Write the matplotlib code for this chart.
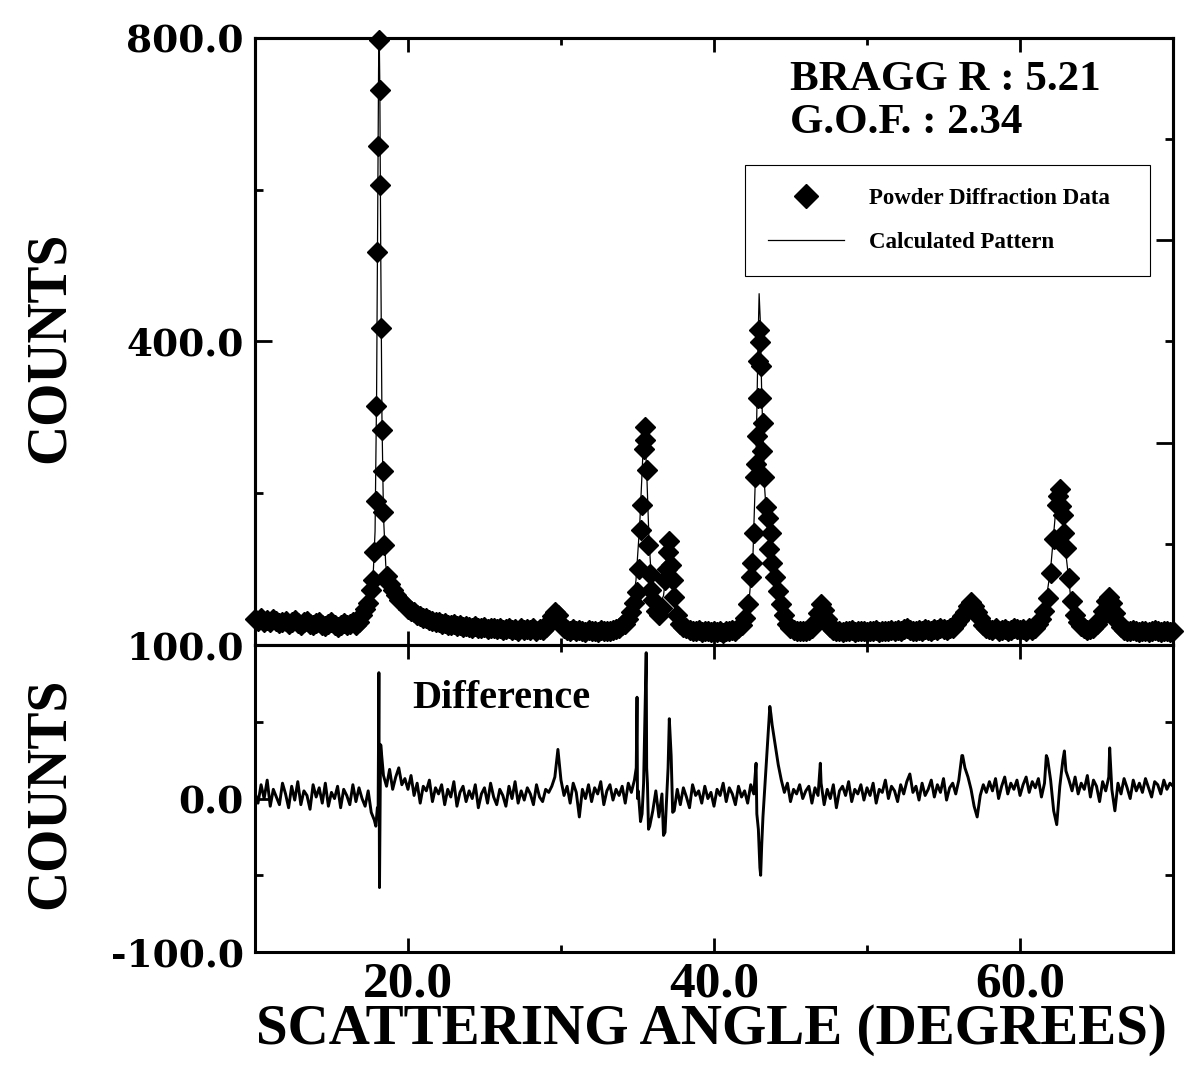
import numpy as np
import matplotlib.pyplot as plt

plt.rcParams['font.family'] = 'Liberation Serif'
plt.rcParams['font.weight'] = 'bold'

# observed counts, scan from 10 to 70 deg in 0.2 deg steps
obs_start = 10.0
obs_step = 0.2
obs_counts = [34, 32, 36, 31, 33, 30, 34, 32, 29, 31,
              32, 28, 30, 33, 29, 27, 30, 32, 28, 26,
              29, 31, 27, 25, 28, 30, 26, 24, 27, 29,
              26, 28, 30, 27, 31, 40, 48, 56, 72, 123,
              518, 606, 175, 91, 80, 72, 66, 60, 57, 53,
              48, 45, 43, 40, 38, 36, 35, 33, 32, 31,
              30, 28, 29, 27, 26, 28, 25, 26, 24, 25,
              24, 23, 25, 22, 23, 24, 21, 22, 23, 21,
              22, 20, 21, 23, 20, 21, 19, 22, 20, 21,
              20, 22, 19, 21, 20, 24, 30, 38, 44, 40,
              28, 22, 20, 19, 21, 18, 20, 19, 17, 20,
              18, 19, 17, 20, 18, 19, 18, 20, 21, 23,
              26, 28, 34, 43, 55, 70, 152, 258, 231, 93,
              60, 45, 40, 49, 86, 122, 106, 63, 40, 28,
              24, 22, 20, 19, 18, 20, 17, 19, 18, 17,
              19, 17, 18, 16, 19, 18, 20, 19, 22, 26,
              36, 54, 90, 147, 275, 399, 293, 182, 126, 108,
              90, 71, 54, 40, 28, 22, 20, 19, 18, 19,
              18, 20, 22, 30, 42, 54, 46, 34, 24, 20,
              19, 18, 17, 19, 18, 20, 17, 18, 19, 18,
              17, 19, 18, 20, 17, 18, 19, 18, 20, 19,
              20, 18, 21, 23, 20, 19, 18, 20, 19, 21,
              20, 19, 21, 20, 22, 21, 20, 22, 23, 28,
              33, 38, 44, 51, 57, 52, 44, 36, 27, 23,
              21, 20, 22, 19, 20, 21, 19, 20, 22, 21,
              20, 21, 19, 22, 20, 23, 28, 34, 45, 62,
              95, 140, 185, 205, 172, 128, 88, 58, 40, 30,
              25, 22, 20, 21, 23, 28, 34, 45, 58, 63,
              55, 42, 30, 24, 20, 19, 18, 20, 19, 17,
              18, 19, 17, 18, 20, 18, 17, 19, 18, 17, 18]

# extra points on the sharp peaks
peak_angle = [17.70, 17.88, 17.94, 18.04, 18.10, 18.15, 18.26, 18.32, 18.37, 18.45,
              35.10, 35.30, 35.47, 35.52, 35.70, 35.90,
              36.90, 37.08, 37.30,
              42.50, 42.70, 42.75, 42.85, 42.90, 42.95, 43.05, 43.10, 43.15, 43.30, 43.50, 43.70,
              62.50, 62.70, 62.90]
peak_counts = [86, 190, 315, 658, 797, 731, 418, 284, 229, 132,
               100, 185, 287, 270, 132, 73,
               100, 137, 86,
               108, 221, 239, 325, 374, 415, 368, 325, 256, 221, 167, 147,
               196, 183, 147]

# calculated pattern
calc_angle = [10, 12, 14, 16, 17, 17.4, 17.7, 17.85, 17.95, 18.02, 18.08, 18.12, 18.16, 18.22,
              18.3, 18.4, 18.55, 18.8, 19.5, 20.5, 22, 24, 26, 28, 29.4, 29.7, 30, 31, 33,
              34.2, 34.6, 34.9, 35.15, 35.35, 35.47, 35.6, 35.75, 35.9, 36.1, 36.4, 36.7,
              36.9, 37.05, 37.2, 37.4, 37.7, 38.2, 40, 41.5, 42.0, 42.3, 42.55, 42.75, 42.88,
              42.95, 43.02, 43.12, 43.3, 43.5, 43.8, 44.2, 44.6, 45.2, 46.4, 46.8, 47.05,
              47.3, 47.8, 50, 53, 55.5, 56.2, 56.8, 57.3, 58, 61, 61.6, 62.0, 62.3, 62.55,
              62.75, 63.0, 63.3, 63.8, 64.6, 65.3, 65.8, 66.2, 66.7, 68, 70]
calc_counts = [30, 28, 27, 28, 36, 48, 80, 150, 330, 560, 760, 805, 740, 520,
               300, 170, 105, 78, 56, 42, 30, 24, 21, 20, 22, 36, 22, 19, 18,
               26, 43, 85, 160, 250, 280, 230, 140, 90, 60, 50, 65,
               100, 125, 110, 70, 36, 23, 18, 22, 36, 60, 120, 250, 400,
               463, 430, 330, 210, 150, 105, 68, 40, 22, 22, 42, 52,
               42, 22, 18, 19, 22, 38, 55, 44, 23, 22, 45, 100, 170, 215,
               190, 120, 65, 31, 22, 35, 60, 45, 23, 18, 18]

# difference (observed - calculated), same 0.2 deg steps
diff_counts = [4, -3, 9, 0, 12, -5, 6, 1, -4, 10,
               3, -6, 8, -1, 11, -4, 5, 2, -7, 9,
               1, 7, -3, 10, -5, 4, 0, 8, -6, 6,
               2, -4, 9, -2, 7, 0, -5, 5, -9, -14,
               -6, 22, 15, 8, 19, 6, 14, 20, 9, 13,
               6, 15, 2, 10, -3, 8, 5, 12, -2, 7,
               3, 9, -4, 6, 1, 11, -5, 4, 8, -2,
               5, 0, 9, -6, 3, 7, -3, 10, 1, -4,
               6, 2, -5, 8, 0, 11, -3, 5, -1, 7,
               3, -4, 9, 1, -2, 6, 4, 8, 14, 32,
               12, 2, 8, -3, 10, 4, -12, 6, 0, 9,
               -2, 7, 3, 11, -4, 5, 9, -1, 6, 2,
               8, -3, 10, 4, 12, 0, -15, 10, 20, -18,
               -8, 5, -12, 3, -22, 20, 28, -8, 6, -4,
               7, 1, -6, 9, 2, 5, -3, 8, 0, 4,
               -5, 6, 2, 10, -2, 7, 3, -4, 8, 1,
               5, -3, 9, 3, -10, -45, -12, 20, 52, 48,
               35, 22, 12, 4, 10, -2, 6, 3, 9, 0,
               5, 8, -3, 7, 2, 10, -4, 6, 0, 9,
               -6, 5, 8, 2, 11, -2, 6, 3, 9, -1,
               7, 2, 10, -3, 6, 4, 12, 0, 8, 5,
               -2, 9, 3, 11, 16, 4, 8, -1, 10, 2,
               6, 12, 1, 9, 4, 13, -1, 7, 10, 3,
               12, 28, 20, 14, 6, -5, -12, 2, 9, 4,
               11, 5, 13, 0, 8, 14, 3, 10, 6, 12,
               2, 9, 14, 4, 11, 7, 13, 1, 10, 26,
               12, -8, -17, 8, 25, 18, 12, 5, 14, 3,
               10, 6, 15, 1, 12, 8, -2, 11, 5, 14,
               6, -8, 10, 3, 13, 7, 0, 12, 5, 10,
               4, 13, 7, 1, 11, 9, 3, 12, 6, 10, 8]

# spikes in the difference around the peaks
spike_angle = [17.90, 18.05, 18.10, 18.14, 18.22,
               34.92, 34.97, 35.05, 35.30, 35.50, 35.57, 35.65, 35.72, 36.70, 37.08, 37.30,
               42.75, 42.90, 43.05, 43.12, 43.65, 43.72,
               46.95, 56.25, 61.72, 62.90, 65.86]
spike_counts = [-18, -8, 82, -58, 35,
                20, 66, 5, -10, 60, 95, 10, -20, -24, 52, -9,
                23, -20, -50, -30, 60, 55,
                23, 28, 28, 31, 33]

# merge scan points with the extra points
grid = obs_start + obs_step * np.arange(len(obs_counts))
obs_x = np.concatenate([grid, peak_angle])
obs_y = np.concatenate([obs_counts, peak_counts])
o = np.argsort(obs_x, kind='stable')
obs_x, obs_y = obs_x[o], obs_y[o]

dgrid = obs_start + obs_step * np.arange(len(diff_counts))
diff_x = np.concatenate([dgrid, spike_angle])
diff_y = np.concatenate([diff_counts, spike_counts])
o = np.argsort(diff_x, kind='stable')
diff_x, diff_y = diff_x[o], diff_y[o]

fig = plt.figure(figsize=(11.88, 10.66), dpi=100)
ax = fig.add_axes([0.2146, 0.3949, 0.7728, 0.5695])
axd = fig.add_axes([0.2146, 0.1069, 0.7728, 0.288])

ax.plot(calc_angle, calc_counts, '-', color='black', lw=0.9, zorder=2, label='Calculated Pattern')
ax.plot(obs_x, obs_y, 'D', color='black', ms=10.5, clip_on=False, zorder=3,
        label='Powder Diffraction Data')
ax.set_xlim(10, 70)
ax.set_ylim(0, 800)

h, l = ax.get_legend_handles_labels()
leg = ax.legend(h[::-1], l[::-1], loc='upper left', bbox_to_anchor=(0.534, 0.605, 0.441, 0.186),
                mode='expand', borderaxespad=0, fancybox=False, edgecolor='black',
                framealpha=1, handlelength=3.3, handletextpad=1.1, labelspacing=1.0,
                borderpad=1.0, markerscale=1.2, prop={'size': 16.5, 'weight': 'bold'})
leg.get_frame().set_linewidth(0.8)

ax.text(0.583, 0.931, 'BRAGG R : 5.21', transform=ax.transAxes, fontsize=31, va='center')
ax.text(0.583, 0.860, 'G.O.F. : 2.34', transform=ax.transAxes, fontsize=31, va='center')

ytick_font = {'family': 'DejaVu Serif', 'weight': 'bold', 'size': 27}

ax.set_yticks([400, 800])
ax.set_yticklabels(['400.0', '800.0'], fontdict=ytick_font)
ax.set_yticks([0, 200, 600], minor=True)
ax.tick_params(axis='y', which='major', direction='in', length=12, width=2, right=False, pad=8)
ax.tick_params(axis='y', which='minor', direction='in', length=6, width=2, right=False)
ax.set_xticks([20, 40, 60])
ax.set_xticks([30, 50], minor=True)
ax.tick_params(axis='x', which='major', direction='in', length=10, width=2, top=True, labelbottom=False)
ax.tick_params(axis='x', which='minor', direction='in', length=5, width=2, top=True)

# right side of the top panel has its own tick spacing
axr = ax.twinx()
axr.set_ylim(0, 800)
axr.set_yticks([800 / 3, 1600 / 3])
axr.set_yticks([800 / 6, 400, 4000 / 6], minor=True)
axr.tick_params(axis='y', which='major', direction='in', length=12, width=2, labelright=False)
axr.tick_params(axis='y', which='minor', direction='in', length=6, width=2)

axd.plot(diff_x, diff_y, '-', color='black', lw=2.1)
axd.set_xlim(10, 70)
axd.set_ylim(-100, 100)
axd.text(0.171, 0.827, 'Difference', transform=axd.transAxes, fontsize=29, va='center')
axd.set_yticks([-100, 0, 100])
axd.set_yticklabels(['-100.0', '0.0', '100.0'], fontdict=ytick_font)
axd.set_yticks([-50, 50], minor=True)
axd.tick_params(axis='y', which='major', direction='in', length=10, width=2, pad=8)
axd.tick_params(axis='y', which='minor', direction='in', length=6, width=2, right=True)
axd.set_xticks([20, 40, 60])
axd.set_xticklabels(['20.0', '40.0', '60.0'], fontsize=37)
axd.set_xticks([30, 50], minor=True)
axd.tick_params(axis='x', which='major', direction='in', length=10, width=2, top=True, pad=7)
axd.tick_params(axis='x', which='minor', direction='in', length=5, width=2, top=True)

for a in (ax, axr, axd):
    for s in a.spines.values():
        s.set_linewidth(2.2)

fig.text(0.042, 0.6745, 'COUNTS', rotation=90, fontsize=40, ha='center', va='center')
fig.text(0.042, 0.256, 'COUNTS', rotation=90, fontsize=40, ha='center', va='center')
fig.text(0.5985, 0.0338, 'SCATTERING ANGLE (DEGREES)', fontsize=41, ha='center', va='center')

fig.savefig('out.png', dpi=100)
